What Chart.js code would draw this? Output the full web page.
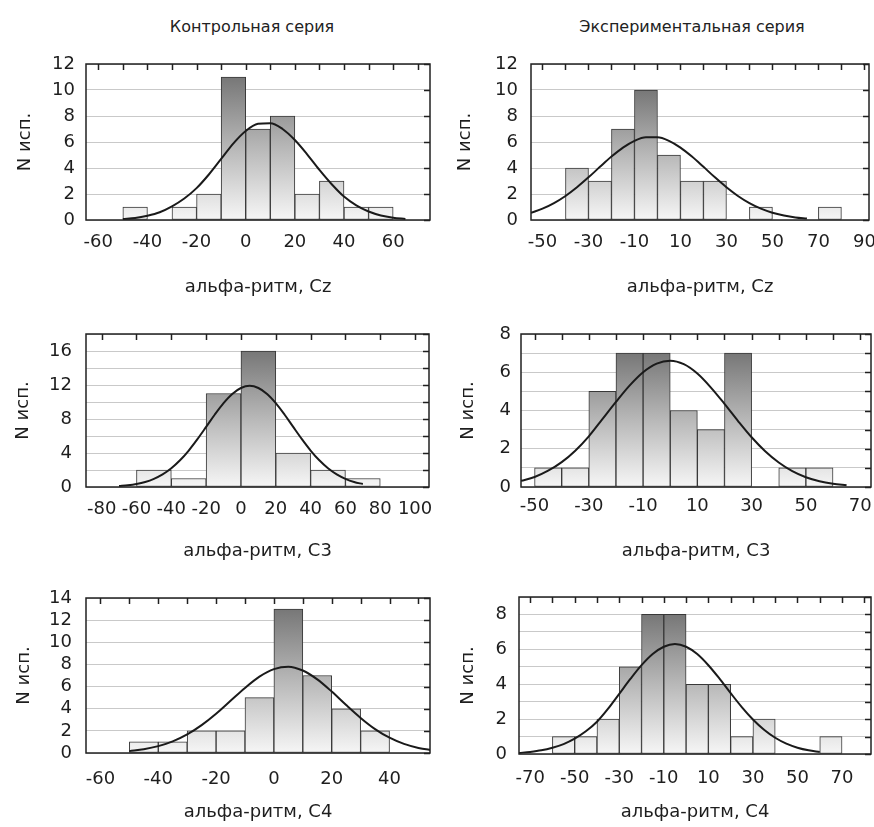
<!DOCTYPE html>
<html>
<head>
<meta charset="utf-8">
<script src="https://cdn.jsdelivr.net/npm/chart.js@4.4.1/dist/chart.umd.min.js"></script>
<style>
  body { margin: 0; background: #fff; width: 874px; height: 827px; position: relative; overflow: hidden; font-family: "DejaVu Sans", sans-serif; }
  .col-title { position: absolute; top: 17px; font-size: 16px; color: #222; white-space: nowrap; transform: translateX(-50%); }
  canvas { position: absolute; }
</style>
</head>
<body>
<div class="col-title" style="left:252px">Контрольная серия</div>
<div class="col-title" style="left:692px">Экспериментальная серия</div>
<canvas id="p1"></canvas>
<canvas id="p2"></canvas>
<canvas id="p3"></canvas>
<canvas id="p4"></canvas>
<canvas id="p5"></canvas>
<canvas id="p6"></canvas>
<script>
// ---- data: histogram bins (left edges), counts, fitted curve ----
const ctrlCzBins   = [-50, -40, -30, -20, -10, 0, 10, 20, 30, 40, 50];
const ctrlCzCounts = [1, 0, 1, 2, 11, 7, 8, 2, 3, 1, 1];
const ctrlCzCurveX = [-50, -45, -40, -35, -30, -25, -20, -15, -10, -5, 0, 5, 10, 15, 20, 25, 30, 35, 40, 45, 50, 55, 60, 65];
const ctrlCzCurveY = [0.07, 0.15, 0.33, 0.6, 1.05, 1.65, 2.45, 3.5, 4.7, 5.9, 6.85, 7.4, 7.45, 7.0, 6.15, 5.05, 3.85, 2.75, 1.8, 1.12, 0.65, 0.35, 0.18, 0.08];
const ctrlCzXLabels = [-60, -40, -20, 0, 20, 40, 60];
const ctrlCzYLabels = [0, 2, 4, 6, 8, 10, 12];

const expCzBins   = [-40, -30, -20, -10, 0, 10, 20, 30, 40, 50, 60, 70];
const expCzCounts = [4, 3, 7, 10, 5, 3, 3, 0, 1, 0, 0, 1];
const expCzCurveX = [-55, -50, -45, -40, -35, -30, -25, -20, -15, -10, -5, 0, 5, 10, 15, 20, 25, 30, 35, 40, 45, 50, 55, 60, 65];
const expCzCurveY = [0.55, 0.87, 1.3, 1.85, 2.52, 3.28, 4.09, 4.88, 5.57, 6.09, 6.36, 6.36, 6.09, 5.57, 4.88, 4.09, 3.28, 2.52, 1.85, 1.3, 0.87, 0.56, 0.35, 0.2, 0.11];
const expCzXLabels = [-50, -30, -10, 10, 30, 50, 70, 90];
const expCzYLabels = [0, 2, 4, 6, 8, 10, 12];

const ctrlC3Bins   = [-60, -40, -20, 0, 20, 40, 60];
const ctrlC3Counts = [2, 1, 11, 16, 4, 2, 1];
const ctrlC3CurveX = [-70, -65, -60, -55, -50, -45, -40, -35, -30, -25, -20, -15, -10, -5, 0, 5, 10, 15, 20, 25, 30, 35, 40, 45, 50, 55, 60, 65, 70];
const ctrlC3CurveY = [0.11, 0.2, 0.35, 0.59, 0.96, 1.48, 2.2, 3.14, 4.29, 5.63, 7.07, 8.53, 9.87, 10.95, 11.65, 11.9, 11.65, 10.95, 9.87, 8.53, 7.07, 5.63, 4.29, 3.14, 2.2, 1.48, 0.96, 0.59, 0.35];
const ctrlC3XLabels = [-80, -60, -40, -20, 0, 20, 40, 60, 80, 100];
const ctrlC3YLabels = [0, 4, 8, 12, 16];

const expC3Bins   = [-50, -40, -30, -20, -10, 0, 10, 20, 30, 40, 50];
const expC3Counts = [1, 1, 5, 7, 7, 4, 3, 7, 0, 1, 1];
const expC3CurveX = [-55, -50, -45, -40, -35, -30, -25, -20, -15, -10, -5, 0, 5, 10, 15, 20, 25, 30, 35, 40, 45, 50, 55, 60, 65];
const expC3CurveY = [0.32, 0.52, 0.85, 1.3, 1.9, 2.65, 3.55, 4.45, 5.3, 6.0, 6.45, 6.6, 6.42, 5.93, 5.2, 4.35, 3.45, 2.6, 1.87, 1.28, 0.83, 0.51, 0.3, 0.17, 0.09];
const expC3XLabels = [-50, -30, -10, 10, 30, 50, 70];
const expC3YLabels = [0, 2, 4, 6, 8];

const ctrlC4Bins   = [-50, -40, -30, -20, -10, 0, 10, 20, 30];
const ctrlC4Counts = [1, 1, 2, 2, 5, 13, 7, 4, 2];
const ctrlC4CurveX = [-50, -45, -40, -35, -30, -25, -20, -15, -10, -5, 0, 5, 10, 15, 20, 25, 30, 35, 40, 45, 50, 55];
const ctrlC4CurveY = [0.17, 0.34, 0.62, 1.05, 1.68, 2.52, 3.55, 4.72, 5.88, 6.9, 7.58, 7.8, 7.45, 6.65, 5.55, 4.33, 3.17, 2.16, 1.38, 0.82, 0.46, 0.24];
const ctrlC4XLabels = [-60, -40, -20, 0, 20, 40];
const ctrlC4YLabels = [0, 2, 4, 6, 8, 10, 12, 14];

const expC4Bins   = [-60, -50, -40, -30, -20, -10, 0, 10, 20, 30, 40, 50, 60];
const expC4Counts = [1, 1, 2, 5, 8, 8, 4, 4, 1, 2, 0, 0, 1];
const expC4CurveX = [-75, -70, -65, -60, -55, -50, -45, -40, -35, -30, -25, -20, -15, -10, -5, 0, 5, 10, 15, 20, 25, 30, 35, 40, 45, 50, 55, 60];
const expC4CurveY = [0.06, 0.12, 0.21, 0.36, 0.57, 0.88, 1.3, 1.85, 2.6, 3.45, 4.3, 5.09, 5.73, 6.15, 6.3, 6.15, 5.73, 5.09, 4.32, 3.49, 2.69, 1.98, 1.39, 0.93, 0.59, 0.36, 0.21, 0.12];
const expC4XLabels = [-70, -50, -30, -10, 10, 30, 50, 70];
const expC4YLabels = [0, 2, 4, 6, 8];

const yTitle = 'N исп.';

// ---- layout: canvas box [left, top, width, height], plot area [left, top, right, bottom] ----
const panels = [
  { id: 'p1', bins: ctrlCzBins, counts: ctrlCzCounts, binWidth: 10, cx: ctrlCzCurveX, cy: ctrlCzCurveY,
    xMin: -65, xMax: 75, xMinor: 10, xLabels: ctrlCzXLabels, yMax: 12, yStep: 2, yLabels: ctrlCzYLabels,
    xTitle: 'альфа-ритм, Cz', box: [0, 40, 437, 262], plot: [86, 64, 430, 220], yTitleX: 25, yGap: 11, xGap: 12 },
  { id: 'p2', bins: expCzBins, counts: expCzCounts, binWidth: 10, cx: expCzCurveX, cy: expCzCurveY,
    xMin: -55, xMax: 92, xMinor: 10, xLabels: expCzXLabels, yMax: 12, yStep: 2, yLabels: expCzYLabels,
    xTitle: 'альфа-ритм, Cz', box: [440, 40, 434, 262], plot: [531, 64, 869, 220], yTitleX: 465, yGap: 13, xGap: 12 },
  { id: 'p3', bins: ctrlC3Bins, counts: ctrlC3Counts, binWidth: 20, cx: ctrlC3CurveX, cy: ctrlC3CurveY,
    xMin: -89, xMax: 108, xMinor: 20, xLabels: ctrlC3XLabels, yMax: 18, yStep: 2, yLabels: ctrlC3YLabels,
    xTitle: 'альфа-ритм, C3', box: [0, 305, 437, 261], plot: [86, 334, 429, 487], yTitleX: 23, yGap: 14, xGap: 12 },
  { id: 'p4', bins: expC3Bins, counts: expC3Counts, binWidth: 10, cx: expC3CurveX, cy: expC3CurveY,
    xMin: -55, xMax: 74, xMinor: 10, xLabels: expC3XLabels, yMax: 8, yStep: 1, yLabels: expC3YLabels,
    xTitle: 'альфа-ритм, C3', box: [440, 305, 434, 261], plot: [521, 334, 871, 487], yTitleX: 468, yGap: 10, xGap: 9 },
  { id: 'p5', bins: ctrlC4Bins, counts: ctrlC4Counts, binWidth: 10, cx: ctrlC4CurveX, cy: ctrlC4CurveY,
    xMin: -65, xMax: 54, xMinor: 10, xLabels: ctrlC4XLabels, yMax: 14, yStep: 2, yLabels: ctrlC4YLabels,
    xTitle: 'альфа-ритм, C4', box: [0, 570, 437, 257], plot: [86, 598, 430, 753], yTitleX: 24, yGap: 14, xGap: 16 },
  { id: 'p6', bins: expC4Bins, counts: expC4Counts, binWidth: 10, cx: expC4CurveX, cy: expC4CurveY,
    xMin: -75, xMax: 83, xMinor: 10, xLabels: expC4XLabels, yMax: 9, yStep: 1, yLabels: expC4YLabels,
    xTitle: 'альфа-ритм, C4', box: [440, 570, 434, 257], plot: [519, 597, 871, 754], yTitleX: 468, yGap: 12, xGap: 14 }
];

const FONT = '"DejaVu Sans", sans-serif';
const TEXT = '#1e1e1e';

// plot frame with inward tick marks on the top and right edges
const framePlugin = {
  id: 'frame',
  afterDraw(chart) {
    const { ctx, chartArea: a, scales: { x, y } } = chart;
    ctx.save();
    ctx.strokeStyle = '#202020';
    ctx.lineWidth = 1.5;
    ctx.beginPath();
    x.ticks.forEach(t => {
      const px = Math.round(x.getPixelForValue(t.value)) + 0.5;
      ctx.moveTo(px, a.top);
      ctx.lineTo(px, a.top + 6);
    });
    y.ticks.forEach(t => {
      const py = Math.round(y.getPixelForValue(t.value)) + 0.5;
      ctx.moveTo(a.right, py);
      ctx.lineTo(a.right - 6, py);
    });
    ctx.stroke();
    ctx.strokeRect(a.left, a.top, a.right - a.left, a.bottom - a.top);
    ctx.restore();
  }
};

function drawPanel(p) {
  const canvas = document.getElementById(p.id);
  const [bx, by, bw, bh] = p.box;
  const [pl, pt, pr, pb] = p.plot;
  canvas.width = bw;
  canvas.height = bh;
  canvas.style.left = bx + 'px';
  canvas.style.top = by + 'px';

  const maxCount = Math.max(...p.counts);
  let grad = null;
  const barFill = (c) => {
    const chart = c.chart;
    if (!chart.chartArea) return '#cccccc';
    if (!grad) {
      const ys = chart.scales.y;
      grad = chart.ctx.createLinearGradient(0, ys.getPixelForValue(maxCount), 0, ys.getPixelForValue(0));
      grad.addColorStop(0, '#777777');
      grad.addColorStop(0.5, '#b8b8b8');
      grad.addColorStop(1, '#f6f6f6');
    }
    return grad;
  };

  new Chart(canvas, {
    type: 'bar',
    data: {
      datasets: [
        {
          type: 'line',
          data: p.cx.map((x, i) => ({ x: x, y: p.cy[i] })),
          borderColor: '#1a1a1a',
          borderWidth: 2,
          pointRadius: 0,
          cubicInterpolationMode: 'monotone',
          fill: false,
          order: 0
        },
        {
          data: p.bins.map((b, i) => ({ x: b + p.binWidth / 2, y: p.counts[i] })),
          backgroundColor: barFill,
          borderColor: '#383838',
          borderWidth: 1,
          borderSkipped: false,
          barPercentage: 1,
          categoryPercentage: 1,
          order: 1
        }
      ]
    },
    options: {
      responsive: false,
      animation: false,
      layout: { autoPadding: false, padding: { left: 0, top: pt - by, right: bx + bw - pr, bottom: 0 } },
      plugins: { legend: { display: false }, tooltip: { enabled: false } },
      scales: {
        x: {
          type: 'linear',
          offset: false,
          min: p.xMin,
          max: p.xMax,
          afterBuildTicks: (s) => {
            const ticks = [];
            for (let v = Math.ceil(p.xMin / p.xMinor) * p.xMinor; v <= p.xMax; v += p.xMinor) ticks.push({ value: v });
            s.ticks = ticks;
          },
          afterFit: (s) => {
            s.height = by + bh - pb;
            s.paddingLeft = 0;
            s.paddingRight = 0;
          },
          grid: { display: false, drawTicks: false },
          border: { display: false },
          ticks: {
            autoSkip: false,
            maxRotation: 0,
            padding: p.xGap,
            color: TEXT,
            font: { family: FONT, size: 18 },
            callback: (v) => p.xLabels.includes(v) ? String(v) : ''
          },
          title: {
            display: true,
            text: p.xTitle,
            color: TEXT,
            font: { family: FONT, size: 18 },
            padding: { top: 0, bottom: 4 }
          }
        },
        y: {
          min: 0,
          max: p.yMax,
          afterFit: (s) => {
            s.width = pl - bx;
            s.paddingTop = 0;
            s.paddingBottom = 0;
          },
          grid: { color: '#c9c9c9', lineWidth: 1, drawTicks: false },
          border: { display: false },
          ticks: {
            stepSize: p.yStep,
            autoSkip: false,
            padding: p.yGap,
            color: TEXT,
            font: { family: FONT, size: 18 },
            callback: (v) => p.yLabels.includes(v) ? String(v) : ''
          },
          title: {
            display: true,
            text: yTitle,
            color: TEXT,
            font: { family: FONT, size: 18 },
            padding: { top: p.yTitleX - bx - 10.8, bottom: 0 }
          }
        }
      }
    },
    plugins: [framePlugin]
  });
}

panels.forEach(drawPanel);
</script>
</body>
</html>
